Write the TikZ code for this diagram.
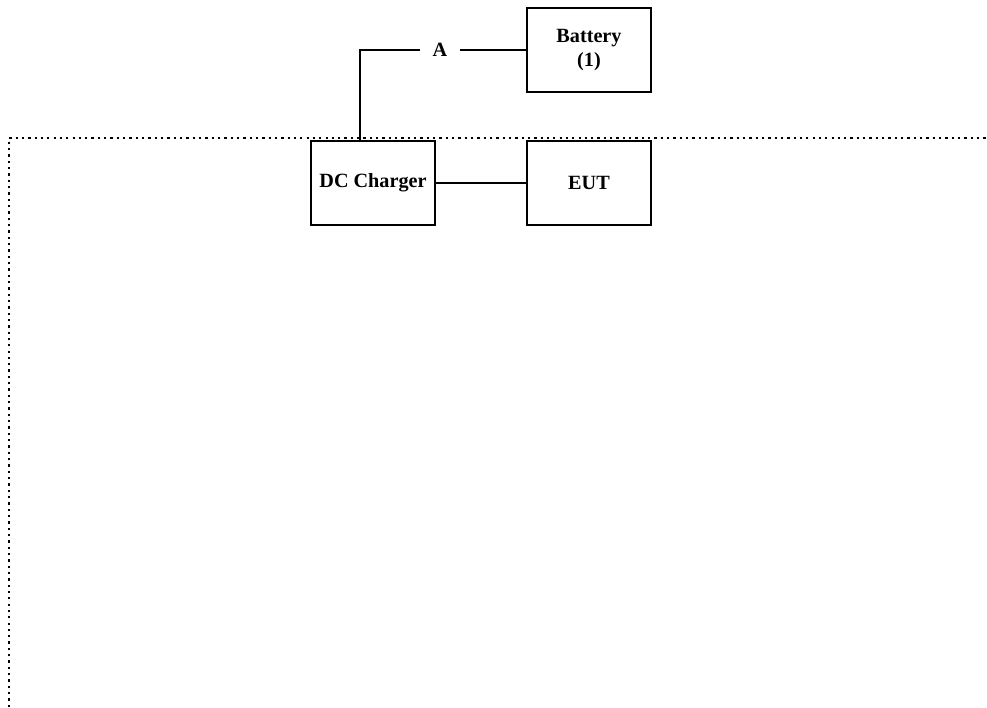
\documentclass[tikz,border=0pt]{standalone}
\usepackage{fontspec}
\setmainfont{Liberation Serif}
\usetikzlibrary{positioning}

\begin{document}
\begin{tikzpicture}[
    x=0.02cm, y=-0.02cm,
    box/.style={rectangle, draw, line width=1.2pt, minimum width=2.48cm, minimum height=1.68cm, align=center, font=\fontsize{11.5}{14}\selectfont\bfseries},
    wire/.style={line width=1.2pt},
    border/.style={line width=1.3pt, dash pattern=on 1.3pt off 2.3pt}
]
    \useasboundingbox (0,0) rectangle (987,707);

    % Boundary of the test area
    \draw[border] (9,707) -- (9,138) -- (987,138);

    % Units
    \node[box] (battery) at (589,50) {Battery\\(1)};
    \node[box] (charger) at (373,183) {DC Charger};
    \node[box] (eut) at (589,183) {EUT};

    % Measuring point
    \node[inner sep=0pt, minimum width=0.8cm, font=\fontsize{11.5}{14}\selectfont\bfseries] (pointA) at (440,50) {A};
    \coordinate (tap) at (360,141);

    % Connections
    \draw[wire] (tap) |- (pointA.west);
    \draw[wire] (pointA.east) -- (battery.west);
    \draw[wire] (charger.east) -- (eut.west);
\end{tikzpicture}
\end{document}
